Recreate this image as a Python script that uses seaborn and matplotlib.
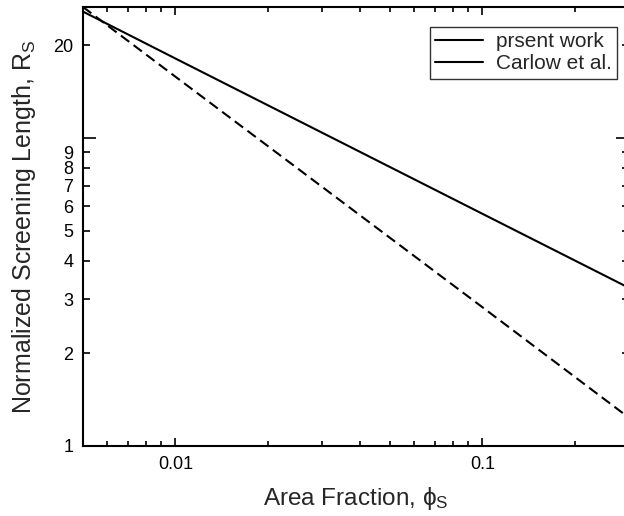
import numpy as np
import pandas as pd
import matplotlib
matplotlib.use("Agg")
import matplotlib.pyplot as plt
import seaborn as sns
from matplotlib.lines import Line2D

# values (log-log straight lines)
phi = [0.005, 0.01, 0.1, 0.3]
rs_present = [25.7, 18.1, 5.67, 3.26]
rs_carlow = [26.6, 15.8, 2.82, 1.235]
labels = ["prsent work", "Carlow et al."]

y_major = [1, 10]
y_major_labels = ["1", ""]
y_minor = [2, 3, 4, 5, 6, 7, 8, 9, 20]
y_minor_labels = ["2", "3", "4", "5", "6", "7", "8", "9", "20"]
x_major = [0.01, 0.1]
x_major_labels = ["0.01", "0.1"]

sns.set_style("ticks")
plt.rcParams["font.family"] = ["Liberation Sans", "DejaVu Sans"]
plt.rcParams["mathtext.fontset"] = "custom"
plt.rcParams["mathtext.rm"] = "Liberation Sans"
plt.rcParams["mathtext.it"] = "Liberation Sans:italic"

df = pd.DataFrame({"phi": phi, "present": rs_present, "carlow": rs_carlow})

fig = plt.figure(figsize=(6.24, 5.16), dpi=100)
ax = fig.add_axes([83 / 624, 70 / 516, (629 - 83) / 624, (446 - 7) / 516])

sns.lineplot(data=df, x="phi", y="present", ax=ax, color="black", lw=1.5)
sns.lineplot(data=df, x="phi", y="carlow", ax=ax, color="black", lw=1.5,
             dashes=False)
ax.lines[1].set_dashes((5, 2.6))

ax.set_xscale("log")
ax.set_yscale("log")
ax.set_xlim(0.005, 0.3)
ax.set_ylim(1, 26.6)

ax.set_xticks(x_major)
ax.set_xticklabels(x_major_labels)
ax.set_yticks(y_major)
ax.set_yticklabels(y_major_labels)
ax.set_yticks(y_minor, minor=True)
ax.set_yticklabels(y_minor_labels, minor=True)

for s in ax.spines.values():
    s.set_linewidth(1.5)
    s.set_color("black")

ax.tick_params(axis="both", which="both", direction="in", labelsize=13,
               colors="black", width=1.2)
ax.tick_params(axis="x", which="major", length=6, pad=7, top=True)
ax.tick_params(axis="x", which="minor", length=3.5, top=True)
ax.tick_params(axis="y", which="major", length=9.5, pad=7, right=True)
ax.tick_params(axis="y", which="minor", length=5, pad=7, right=True)

ax.set_xlabel("Area Fraction, ϕ$_\\mathrm{S}$", fontsize=17.5, labelpad=9)
ax.set_ylabel("Normalized Screening Length, R$_\\mathrm{S}$", fontsize=18,
              labelpad=11)

handles = [Line2D([], [], color="black", lw=1.5) for _ in labels]
leg = ax.legend(handles, labels, loc="upper right",
                bbox_to_anchor=((617 - 83) / 546, (446 - 27) / 439),
                borderaxespad=0, fontsize=15, frameon=True, fancybox=False,
                edgecolor="black", handlelength=2.3, handletextpad=0.6,
                labelspacing=0.15, borderpad=0.25)
leg.get_frame().set_linewidth(1.0)

plt.savefig("out.png", dpi=100)
plt.close()
